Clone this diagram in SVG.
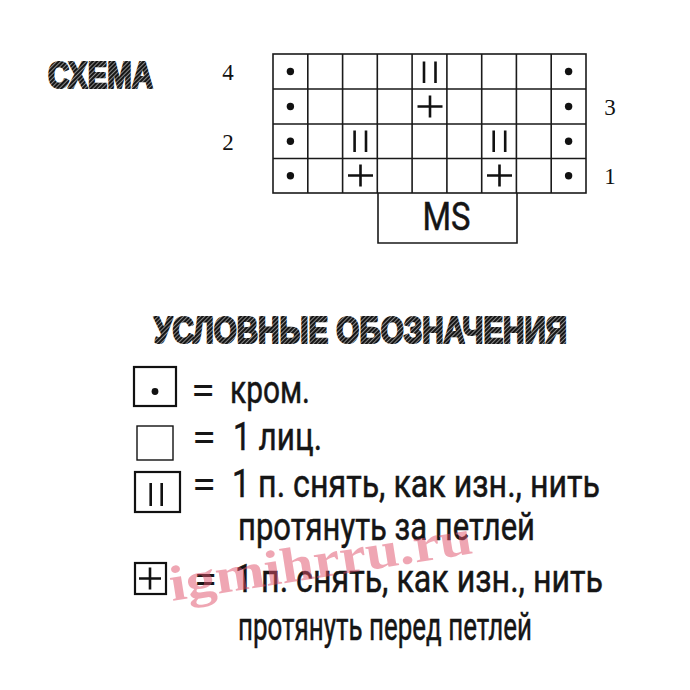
<svg xmlns="http://www.w3.org/2000/svg" width="690" height="690" viewBox="0 0 690 690">
<defs>
<pattern id="hatch" width="3" height="3" patternUnits="userSpaceOnUse" patternTransform="rotate(45)">
<rect width="3" height="3" fill="#8a8a8a"/>
<rect width="2" height="3" fill="#151515"/>
</pattern>
</defs>
<style>
.head{font-family:"Liberation Sans",Arial,sans-serif;font-weight:900;fill:url(#hatch);stroke:url(#hatch);stroke-width:2.2;stroke-linejoin:round}
.num{font-family:"Liberation Serif","Times New Roman",serif;font-size:23px;fill:#111;text-anchor:middle}
.grid{stroke:#1a1a1a;stroke-width:1.6;fill:none}
.box{stroke:#111;fill:none}
.sym{stroke:#111;stroke-width:2.6;fill:none}
.dot{fill:#111}
.lg{font-family:Roboto,"Liberation Sans",sans-serif;font-size:39px;font-weight:400;fill:#151515;stroke:#151515;stroke-width:0.5}
.eq{font-family:Roboto,"Liberation Sans",sans-serif;font-size:38px;font-weight:400;fill:#151515}
.wm{font-family:"Liberation Serif","Times New Roman",serif;font-weight:bold;font-size:50px;fill:#e0506a;opacity:0.5}
</style>
<rect width="690" height="690" fill="#ffffff"/>

<g id="title">
<text class="head" x="48" y="88" font-size="37" textLength="105" lengthAdjust="spacingAndGlyphs">СХЕМА</text>
</g>

<g id="row-numbers">
<text class="num" x="228" y="80">4</text>
<text class="num" x="228" y="150">2</text>
<text class="num" x="610" y="115">3</text>
<text class="num" x="610" y="184">1</text>
</g>

<g id="chart">
<rect class="grid" x="273" y="54" width="313" height="139"/>
<path class="grid" d="M273 89H586M273 124H586M273 158.5H586
M307.8 54V193M342.6 54V193M377.3 54V193M412.1 54V193M446.9 54V193M481.7 54V193M516.4 54V193M551.2 54V193"/>
<g id="edge-dots">
<circle class="dot" cx="290.4" cy="71.5" r="3.7"/>
<circle class="dot" cx="290.4" cy="106.5" r="3.7"/>
<circle class="dot" cx="290.4" cy="141.3" r="3.7"/>
<circle class="dot" cx="290.4" cy="175.8" r="3.7"/>
<circle class="dot" cx="568.6" cy="71.5" r="3.7"/>
<circle class="dot" cx="568.6" cy="106.5" r="3.7"/>
<circle class="dot" cx="568.6" cy="141.3" r="3.7"/>
<circle class="dot" cx="568.6" cy="175.8" r="3.7"/>
</g>
<g id="slip-behind">
<path class="sym" d="M424 61.5V83M435.5 61.5V83"/>
<path class="sym" d="M354.6 130.5V152M366 130.5V152"/>
<path class="sym" d="M493.7 130.5V152M505.2 130.5V152"/>
</g>
<g id="slip-front">
<path class="sym" stroke-width="3" d="M417.5 106.5H442.5M430 95.5V117.5"/>
<path class="sym" stroke-width="3" d="M348 175.5H373M360.5 164.5V186.5"/>
<path class="sym" stroke-width="3" d="M487 175.5H512M499.5 164.5V186.5"/>
</g>
</g>

<g id="ms">
<path class="grid" d="M378 193V243H517V193"/>
<text class="lg" x="422.5" y="229.5" font-size="37" textLength="48" lengthAdjust="spacingAndGlyphs">MS</text>
</g>

<g id="legend-title">
<text class="head" x="154" y="343" font-size="36" textLength="413" lengthAdjust="spacingAndGlyphs">УСЛОВНЫЕ ОБОЗНАЧЕНИЯ</text>
</g>

<g id="legend-edge">
<rect class="box" stroke-width="2.2" x="134" y="367" width="42" height="39"/>
<circle class="dot" cx="155" cy="391.5" r="3.4"/>
<text class="eq" x="191" y="404" textLength="24" lengthAdjust="spacingAndGlyphs">=</text>
<text class="lg" x="230" y="403" textLength="80" lengthAdjust="spacingAndGlyphs">кром.</text>
</g>

<g id="legend-knit">
<rect class="box" stroke-width="1.4" x="137" y="426" width="36" height="34"/>
<text class="eq" x="192" y="451" textLength="24" lengthAdjust="spacingAndGlyphs">=</text>
<text class="lg" x="233" y="450" textLength="89" lengthAdjust="spacingAndGlyphs">1 лиц.</text>
</g>

<g id="legend-slip-behind">
<rect class="box" stroke-width="2.2" x="135" y="472" width="45" height="40"/>
<path class="sym" stroke-width="2.2" d="M150.7 483V506M161.7 483V506"/>
<text class="eq" x="192" y="498" textLength="24" lengthAdjust="spacingAndGlyphs">=</text>
<text class="lg" x="232" y="497" textLength="368" lengthAdjust="spacingAndGlyphs">1 п. снять, как изн., нить</text>
<text class="lg" x="238" y="540" textLength="297" lengthAdjust="spacingAndGlyphs">протянуть за петлей</text>
</g>

<g id="legend-slip-front">
<rect class="box" stroke-width="2.2" x="135" y="563" width="31" height="31"/>
<path class="sym" stroke-width="2.8" d="M139 578.5H161M150 567.5V589.5"/>
<text class="eq" x="194" y="593" textLength="23" lengthAdjust="spacingAndGlyphs">=</text>
<text class="lg" x="235" y="592" textLength="368" lengthAdjust="spacingAndGlyphs">1 п. снять, как изн., нить</text>
<text class="lg" x="238" y="640" textLength="294" lengthAdjust="spacingAndGlyphs">протянуть перед петлей</text>
</g>

<g id="watermark">
<text class="wm" x="172" y="601" transform="rotate(-9 172 601)" textLength="306" lengthAdjust="spacingAndGlyphs">igmihrru.ru</text>
</g>
</svg>
